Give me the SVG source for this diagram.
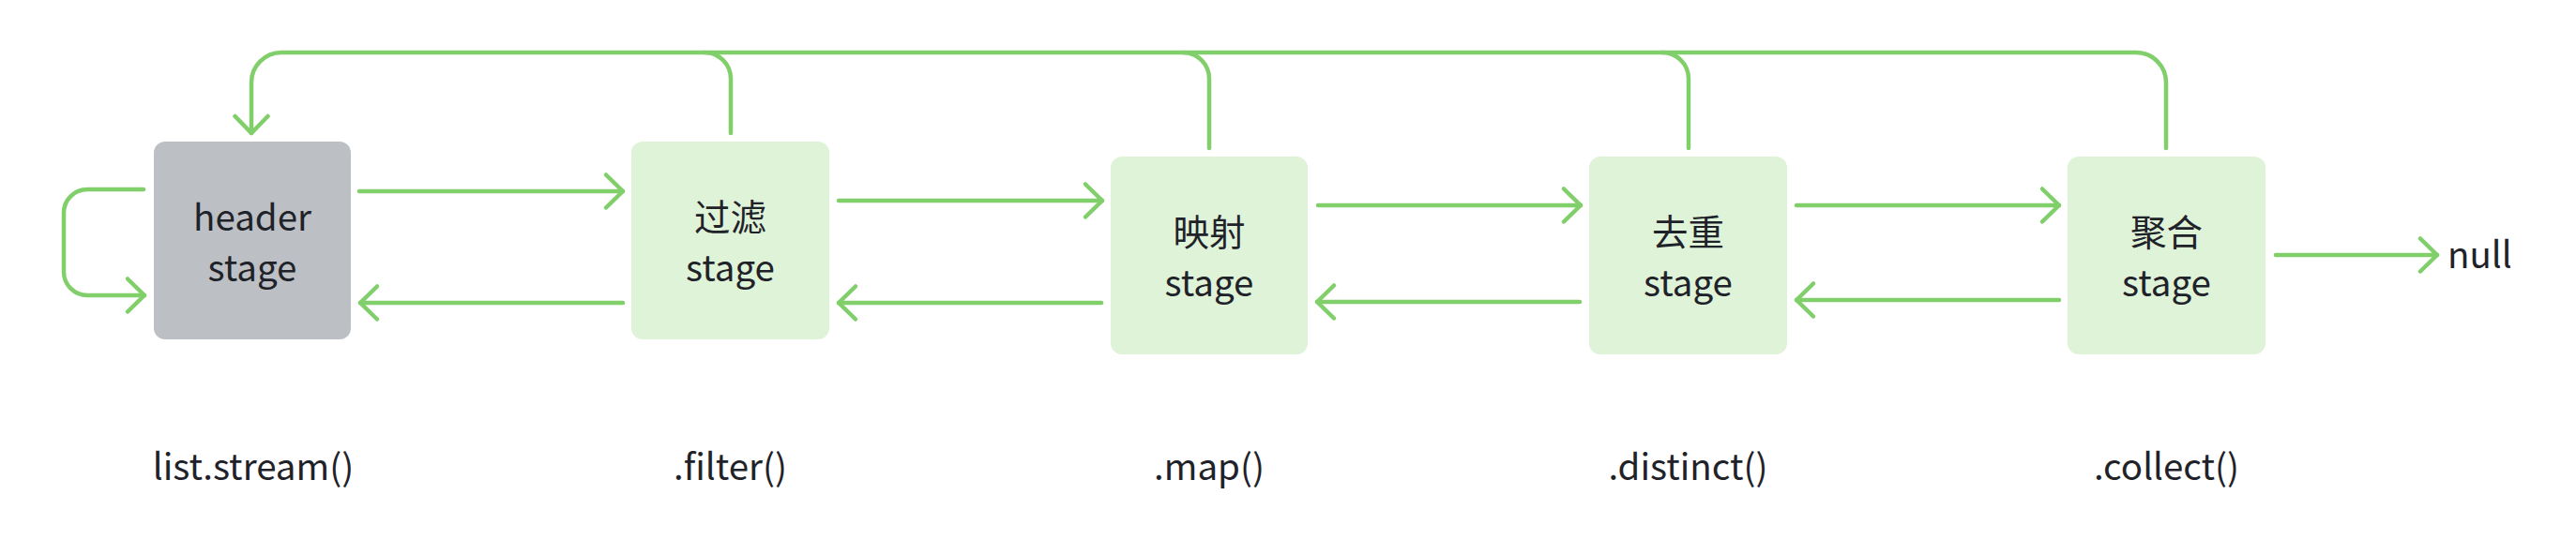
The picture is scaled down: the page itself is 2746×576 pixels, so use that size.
<svg xmlns="http://www.w3.org/2000/svg" width="2746" height="576" viewBox="0 0 2746 576">
<style>
.stage{fill:#dff3d9;}
.head{fill:#bcbfc4;}
.t{font-family:"Noto Sans CJK SC","Noto Sans",sans-serif;font-size:38.5px;fill:#1f2329;text-anchor:middle;}
.c{fill:none;stroke:#80cf6a;stroke-width:4.5;stroke-linecap:round;stroke-linejoin:round;}
</style>
<defs>
<marker id="ah" markerUnits="userSpaceOnUse" markerWidth="40" markerHeight="40" viewBox="-20 -20 40 40" refX="0" refY="0" orient="auto" overflow="visible">
<path d="M -18 -17.5 L 0 0 L -18 17.5" fill="none" stroke="#80cf6a" stroke-width="4.5" stroke-linecap="round" stroke-linejoin="round"/>
</marker>
</defs>
<rect width="2746" height="576" fill="#ffffff"/>
<g id="connectors">
<path class="c" d="M 2309 158 V 88 A 32 32 0 0 0 2277 56 H 300 A 32 32 0 0 0 268 88 V 142" marker-end="url(#ah)"/>
<path class="c" d="M 779 142 V 84 A 28 28 0 0 0 751 56"/>
<path class="c" d="M 1289 158 V 84 A 28 28 0 0 0 1261 56"/>
<path class="c" d="M 1800 158 V 84 A 28 28 0 0 0 1772 56"/>
<path class="c" d="M 153 202 H 93 A 25 25 0 0 0 68 227 V 290 A 25 25 0 0 0 93 315 H 154" marker-end="url(#ah)"/>
<path class="c" d="M 383 204 H 664" marker-end="url(#ah)"/>
<path class="c" d="M 664 323 H 384" marker-end="url(#ah)"/>
<path class="c" d="M 894 214 H 1175" marker-end="url(#ah)"/>
<path class="c" d="M 1174 323 H 894" marker-end="url(#ah)"/>
<path class="c" d="M 1405 219 H 1685" marker-end="url(#ah)"/>
<path class="c" d="M 1684 322 H 1404" marker-end="url(#ah)"/>
<path class="c" d="M 1915 219 H 2195" marker-end="url(#ah)"/>
<path class="c" d="M 2195 320 H 1915" marker-end="url(#ah)"/>
<path class="c" d="M 2426 272 H 2598" marker-end="url(#ah)"/>
</g>
<g id="header">
<rect class="head" x="164" y="151" width="210" height="211" rx="12"/>
<text class="t" x="269" y="246">header</text>
<text class="t" x="269" y="300">stage</text>
</g>
<g id="filter">
<rect class="stage" x="673" y="151" width="211" height="211" rx="12"/>
<text class="t" x="778.5" y="246">过滤</text>
<text class="t" x="778.5" y="300">stage</text>
</g>
<g id="map">
<rect class="stage" x="1184" y="167" width="210" height="211" rx="12"/>
<text class="t" x="1289" y="262">映射</text>
<text class="t" x="1289" y="316">stage</text>
</g>
<g id="distinct">
<rect class="stage" x="1694" y="167" width="211" height="211" rx="12"/>
<text class="t" x="1799.5" y="262">去重</text>
<text class="t" x="1799.5" y="316">stage</text>
</g>
<g id="collect">
<rect class="stage" x="2204" y="167" width="211" height="211" rx="12"/>
<text class="t" x="2309.5" y="262">聚合</text>
<text class="t" x="2309.5" y="316">stage</text>
</g>
<g id="null">
<text class="t" x="2609" y="286" style="text-anchor:start">null</text>
</g>
<g id="labels">
<text class="t" x="270" y="512">list.stream()</text>
<text class="t" x="778.5" y="512">.filter()</text>
<text class="t" x="1289" y="512">.map()</text>
<text class="t" x="1799.5" y="512">.distinct()</text>
<text class="t" x="2309.5" y="512">.collect()</text>
</g>
</svg>
